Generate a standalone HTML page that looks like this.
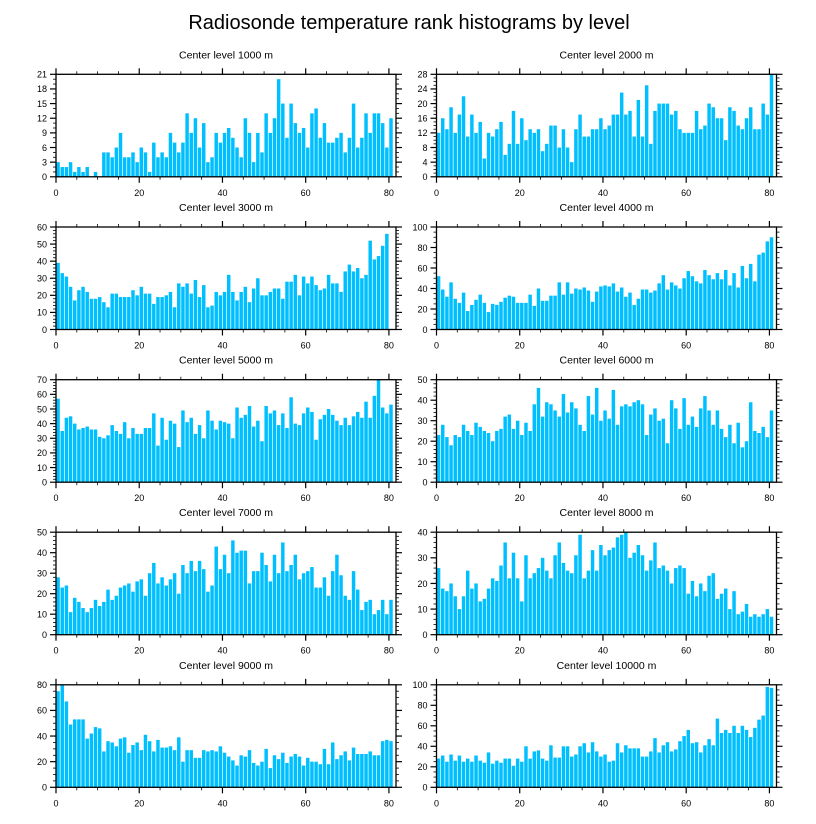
<!DOCTYPE html>
<html><head><meta charset="utf-8">
<style>
html,body{margin:0;padding:0;background:#fff;}
svg{display:block;font-family:"Liberation Sans",Arial,sans-serif;}
</style></head>
<body>
<svg id="chart" width="816" height="824" viewBox="0 0 816 824" xmlns="http://www.w3.org/2000/svg">
<text x="409" y="29" text-anchor="middle" font-size="20">Radiosonde temperature rank histograms by level</text>
</svg>
<script>
const levels = ["1000","2000","3000","4000","5000","6000","7000","8000","9000","10000"];
const yMax = [21,28,60,100,70,50,50,40,80,100];
const yStep = [3,4,10,20,10,10,10,10,20,20];
const xTicks = [0,20,40,60,80];
const d1000 = [3,2,2,3,1,2,1,2,0,1,0,5,5,4,6,9,4,4,5,3,6,5,1,7,4,5,4,9,7,5,7,13,9,12,6,11,3,4,9,7,9,10,8,6,4,12,9,3,9,5,13,9,12,20,15,8,15,11,9,10,6,13,14,8,11,7,7,8,9,5,8,15,6,8,13,9,13,13,11,6,12];
const d2000 = [12,16,13,19,12,17,22,11,17,12,15,5,12,11,13,15,6,9,18,9,16,10,13,12,13,7,9,14,14,8,13,8,4,13,17,11,11,13,13,16,13,14,17,17,23,17,18,11,21,11,25,9,18,20,20,20,17,18,13,12,12,12,18,13,14,20,19,16,16,10,19,18,14,13,16,19,13,13,20,17,28];
const d3000 = [39,33,31,25,17,23,25,22,18,18,19,16,13,21,21,19,19,19,23,20,25,21,21,15,19,19,20,22,13,27,25,27,21,29,19,26,13,14,22,20,22,32,22,17,22,25,16,24,30,20,20,22,24,24,18,28,28,32,20,31,27,31,26,23,24,32,27,27,22,34,38,34,36,30,32,52,41,43,49,56];
const d4000 = [52,39,32,46,30,26,36,18,24,29,34,26,17,25,24,27,31,33,32,26,26,26,34,23,40,28,28,33,33,46,34,46,35,40,39,41,38,27,37,42,43,42,45,37,41,32,36,24,30,39,39,36,38,45,53,39,46,43,40,50,57,52,47,45,58,53,49,55,49,58,43,55,41,62,50,64,47,73,75,86,90];
const d5000 = [57,35,44,45,40,36,37,38,36,36,31,30,32,39,35,33,41,30,37,33,33,37,37,47,25,44,29,42,40,24,49,41,44,33,39,30,49,42,36,42,41,40,30,51,44,46,52,38,42,28,52,47,49,39,47,37,58,40,39,47,51,48,29,43,46,50,46,42,39,44,39,45,48,44,55,44,59,70,51,47,53];
const d6000 = [23,28,22,18,23,22,28,25,23,29,27,25,24,20,25,26,32,33,26,30,23,29,25,38,46,32,39,38,35,32,43,34,39,36,28,25,42,33,46,30,35,31,45,28,37,38,37,39,40,38,23,33,36,30,31,19,40,36,26,41,28,32,27,36,42,35,28,35,26,22,28,19,29,17,20,39,25,24,27,22,35];
const d7000 = [28,23,24,11,18,16,13,11,13,17,14,16,22,17,19,23,24,25,21,26,27,19,30,35,25,28,24,27,30,20,34,30,36,31,36,32,21,24,43,32,39,30,46,40,41,41,25,31,31,40,34,26,39,30,45,31,34,39,27,30,31,33,23,23,28,19,31,39,29,19,17,31,22,12,16,17,10,12,17,10,17];
const d8000 = [26,18,17,20,15,10,15,25,18,20,13,14,18,22,21,27,36,22,32,22,13,31,22,24,26,30,25,22,31,36,28,25,24,31,39,22,25,33,25,35,31,33,34,38,39,40,30,32,35,31,25,29,36,26,27,25,20,26,27,26,16,21,15,20,17,23,24,14,16,18,10,17,8,9,12,7,8,7,8,10,7];
const d9000 = [75,80,67,49,53,53,53,38,42,47,46,28,36,35,32,38,39,27,33,35,29,41,36,28,37,31,31,32,29,39,20,29,29,23,23,29,28,29,28,32,27,24,21,17,25,24,29,19,17,20,30,15,25,22,27,19,24,26,24,17,23,20,20,18,30,18,35,22,25,28,21,31,26,26,26,28,25,25,36,37,36];
const d10000 = [28,31,25,32,26,31,25,28,25,31,26,24,34,23,26,24,28,28,21,28,25,40,28,35,36,28,26,41,29,29,40,40,30,32,40,43,34,44,35,30,32,25,26,43,34,41,38,38,38,30,30,35,48,34,41,44,35,37,45,50,56,43,44,34,41,47,41,67,53,56,53,60,53,60,56,49,58,66,70,98,97];
const series = [d1000,d2000,d3000,d4000,d5000,d6000,d7000,d8000,d9000,d10000];

const NS = "http://www.w3.org/2000/svg";
const svg = document.getElementById("chart");
function mk(tag, attrs, parent){
  const e = document.createElementNS(NS, tag);
  for (const k in attrs) e.setAttribute(k, attrs[k]);
  (parent||svg).appendChild(e);
  return e;
}
const PW = 340, PH = 102.5, XMAX = 81.7;
const lefts = [56, 436.5];
const tops = [74.3, 227, 379.7, 532.2, 684.8];

for (let p = 0; p < 10; p++) {
  const L = lefts[p % 2], T = tops[Math.floor(p / 2)], B = T + PH;
  const ymax = yMax[p], ystep = yStep[p], vals = series[p];
  const xs = v => L + v / XMAX * PW;
  const ys = v => B - v / ymax * PH;
  const g = mk("g", {});
  
  

  const title = mk("text", {x: L + PW / 2, y: T - 16, "text-anchor": "middle", "font-size": "10.5"}, g);
  
  
  title.textContent = "Center level " + levels[p] + " m";

  vals.forEach((v, i) => {
    const r = mk("rect", {x: xs(i) + 0.35, y: ys(v), width: Math.max(0.5, xs(i + 1) - xs(i) - 0.7), height: B - ys(v), fill: "#00bfff"}, g);
    
    
  });

  const fr = mk("rect", {x: L, y: T, width: PW, height: PH, fill: "none", stroke: "#000", "stroke-width": "1.3"}, g);
  
  

  for (let v = 0; v <= 80; v += 5) {
    const major = v % 20 === 0, len = major ? 6 : 3;
    const x = xs(v);
    mk("line", {x1: x, y1: B, x2: x, y2: B + len, stroke: "#000", "stroke-width": major ? 1.2 : 0.8}, g);
    mk("line", {x1: x, y1: T, x2: x, y2: T - len, stroke: "#000", "stroke-width": major ? 1.2 : 0.8}, g);
  }
  xTicks.forEach(v => {
    const t = mk("text", {x: xs(v), y: B + 19, "text-anchor": "middle", "font-size": "9"}, g);
    
    
    t.textContent = v;
  });
  const minor = ystep / (ystep % 4 === 0 ? 4 : (ystep % 5 === 0 ? 5 : 3));
  for (let v = 0; v <= ymax + 1e-9; v += minor) {
    const major = Math.abs(v / ystep - Math.round(v / ystep)) < 1e-6, len = major ? 6 : 3;
    const y = ys(v);
    mk("line", {x1: L, y1: y, x2: L - len, y2: y, stroke: "#000", "stroke-width": major ? 1.2 : 0.8}, g);
    mk("line", {x1: L + PW, y1: y, x2: L + PW + len, y2: y, stroke: "#000", "stroke-width": major ? 1.2 : 0.8}, g);
  }
  for (let v = 0; v <= ymax; v += ystep) {
    const t = mk("text", {x: L - 9, y: ys(v) + 3.3, "text-anchor": "end", "font-size": "9"}, g);
    
    
    t.textContent = v;
  }
}
</script>
</body></html>
